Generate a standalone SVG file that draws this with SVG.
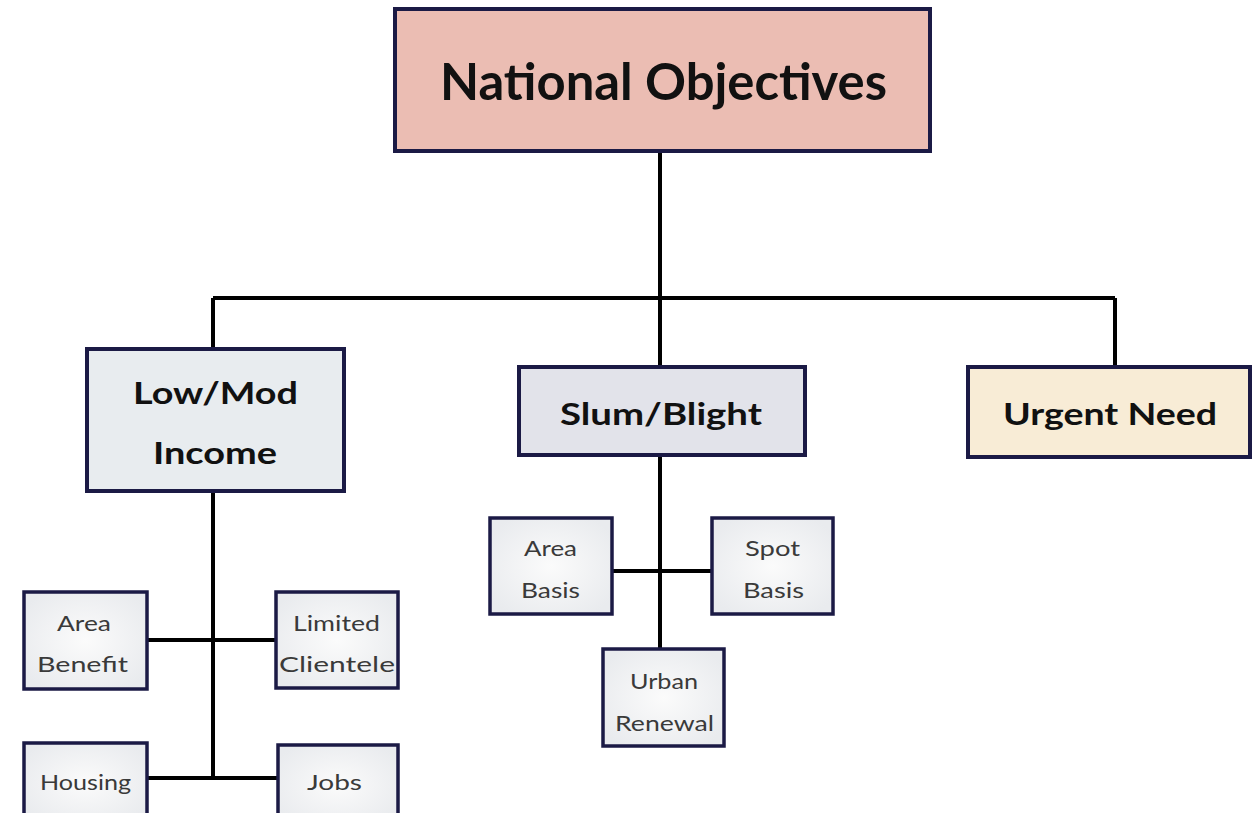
<svg xmlns="http://www.w3.org/2000/svg" width="1258" height="813" viewBox="0 0 1258 813">
<defs>
<radialGradient id="sg" cx="50%" cy="50%" r="60%">
<stop offset="0" stop-color="#fbfbfb"/>
<stop offset="1" stop-color="#e9ebee"/>
</radialGradient>
<style>
.big{stroke:#1b1a45;stroke-width:4}
.small{stroke:#1b1a45;stroke-width:3.5;fill:url(#sg)}
.bt{font-family:Lato,"Liberation Sans",sans-serif;font-weight:bold;fill:#111;text-anchor:start}
.st{font-family:Lato,"Liberation Sans",sans-serif;font-weight:normal;fill:#3a3a3a;font-size:21px}
.ln{stroke:#000;stroke-width:4;fill:none}
</style>
</defs>
<rect width="1258" height="813" fill="#fff"/>
<g id="connectors">
<path class="ln" d="M660 151V298M213 298H1115M213 298V348M660 298V367M1115 298V367"/>
<path class="ln" d="M213 491V778M147 640H276M147 778H278"/>
<path class="ln" d="M660 455V648M612 571H712"/>
</g>
<g id="national">
<rect class="big" x="395" y="9" width="535" height="142" fill="#ebbdb3"/>
<text class="bt" x="440" y="100" font-size="52" textLength="447" lengthAdjust="spacingAndGlyphs">National Objectives</text>
</g>
<g id="lowmod">
<rect class="big" x="87" y="349" width="257" height="142" fill="#e8ecef"/>
<text class="bt" x="133" y="404" font-size="31" textLength="165" lengthAdjust="spacingAndGlyphs">Low/Mod</text>
<text class="bt" x="153" y="464" font-size="31" textLength="124" lengthAdjust="spacingAndGlyphs">Income</text>
</g>
<g id="slum">
<rect class="big" x="519" y="367" width="286" height="88" fill="#e2e3ea"/>
<text class="bt" x="560" y="425" font-size="31" textLength="202" lengthAdjust="spacingAndGlyphs">Slum/Blight</text>
</g>
<g id="urgent">
<rect class="big" x="968" y="367" width="282" height="90" fill="#f8ecd6"/>
<text class="bt" x="1003" y="425" font-size="31" textLength="214" lengthAdjust="spacingAndGlyphs">Urgent Need</text>
</g>
<g id="areabenefit">
<rect class="small" x="24" y="592" width="123" height="97"/>
<text class="st" x="57" y="631" textLength="54" lengthAdjust="spacingAndGlyphs">Area</text>
<text class="st" x="37" y="672" textLength="91" lengthAdjust="spacingAndGlyphs">Benefit</text>
</g>
<g id="limited">
<rect class="small" x="276" y="592" width="122" height="96"/>
<text class="st" x="293" y="631" textLength="87" lengthAdjust="spacingAndGlyphs">Limited</text>
<text class="st" x="279" y="672" textLength="116" lengthAdjust="spacingAndGlyphs">Clientele</text>
</g>
<g id="housing">
<rect class="small" x="24" y="743" width="123" height="80"/>
<text class="st" x="40" y="790" textLength="91" lengthAdjust="spacingAndGlyphs">Housing</text>
</g>
<g id="jobs">
<rect class="small" x="278" y="745" width="120" height="80"/>
<text class="st" x="307" y="790" textLength="55" lengthAdjust="spacingAndGlyphs">Jobs</text>
</g>
<g id="areabasis">
<rect class="small" x="490" y="518" width="122" height="96"/>
<text class="st" x="524" y="556" textLength="53" lengthAdjust="spacingAndGlyphs">Area</text>
<text class="st" x="521" y="598" textLength="59" lengthAdjust="spacingAndGlyphs">Basis</text>
</g>
<g id="spotbasis">
<rect class="small" x="712" y="518" width="121" height="96"/>
<text class="st" x="745" y="556" textLength="55" lengthAdjust="spacingAndGlyphs">Spot</text>
<text class="st" x="743" y="598" textLength="61" lengthAdjust="spacingAndGlyphs">Basis</text>
</g>
<g id="urban">
<rect class="small" x="603" y="649" width="121" height="97"/>
<text class="st" x="630" y="689" textLength="68" lengthAdjust="spacingAndGlyphs">Urban</text>
<text class="st" x="615" y="731" textLength="99" lengthAdjust="spacingAndGlyphs">Renewal</text>
</g>
</svg>
